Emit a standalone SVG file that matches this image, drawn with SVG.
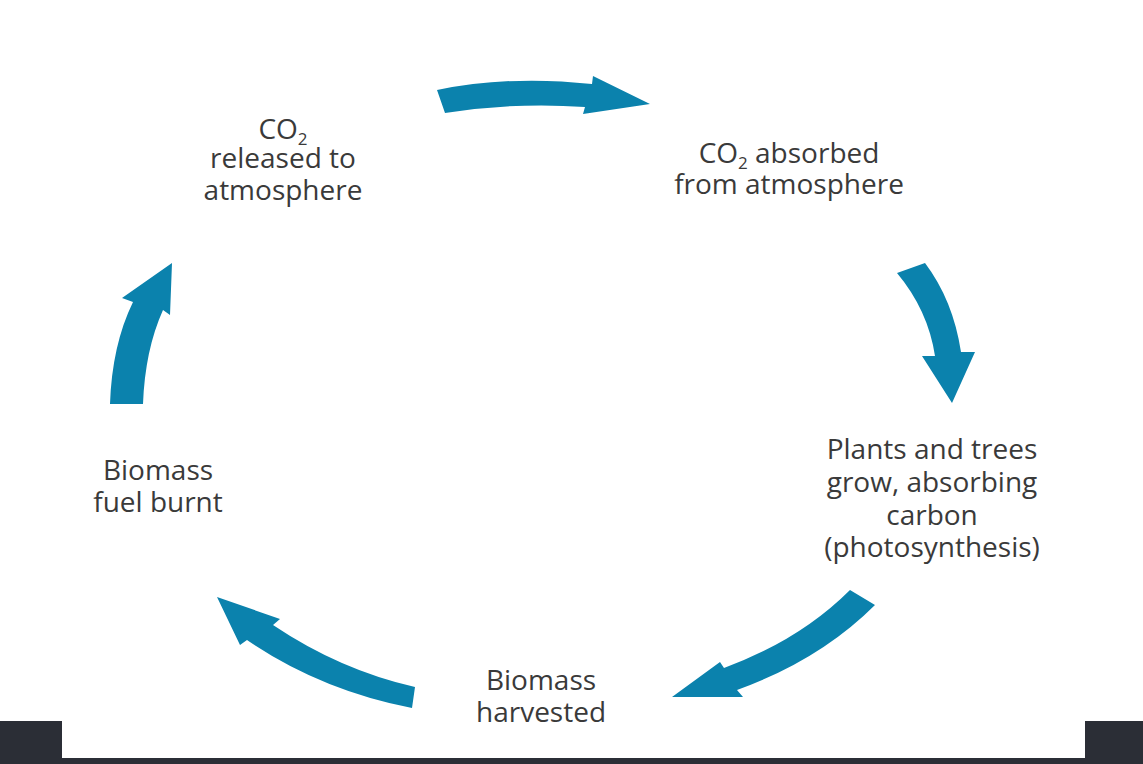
<svg xmlns="http://www.w3.org/2000/svg" width="1143" height="764" viewBox="0 0 1143 764">
<style>
.t{font-family:"Open Sans","Noto Sans",sans-serif;font-size:28px;fill:#3a3a3a;text-anchor:middle}
.s{font-size:17px}
.arr{fill:#0b82ad}
.frame{fill:#2b2e36}
</style>
<rect x="0" y="0" width="1143" height="764" fill="#ffffff"/>
<g id="frame">
<rect class="frame" x="0" y="721" width="62" height="43"/>
<rect class="frame" x="1085" y="721" width="58" height="43"/>
<rect class="frame" x="0" y="758" width="1143" height="6"/>
</g>
<g id="connectors">
<path class="arr" d="M437,90 Q510,75 592,84 L593,76 L650,104 L583,114 L585,107 Q515,102 445,113 Z"/>
<path class="arr" d="M897,273 L925,263 Q953,300 961,352 L975,352 L952,403 L922,356 L935,356 Q928,310 897,273 Z"/>
<path class="arr" d="M850,590 L875,605 Q820,660 737,690 L743,697 L672,697 L720,662 L724,668 Q800,640 850,590 Z"/>
<path class="arr" d="M217,597 L280,619 L273,625 Q340,670 415,687 L412,708 Q320,690 247,640 L240,645 Z"/>
<path class="arr" d="M172,263 L170,315 L163,310 Q145,350 143,404 L110,404 Q112,345 133,302 L122,298 Z"/>
</g>
<g id="node-released">
<text class="t" x="283" y="139">CO<tspan class="s" dy="6">2</tspan></text>
<text class="t" x="283" y="168">released to</text>
<text class="t" x="283" y="200">atmosphere</text>
</g>
<g id="node-absorbed">
<text class="t" x="789" y="163">CO<tspan class="s" dy="6">2</tspan><tspan dy="-6"> absorbed</tspan></text>
<text class="t" x="789" y="194">from atmosphere</text>
</g>
<g id="node-plants">
<text class="t" x="932" y="459">Plants and trees</text>
<text class="t" x="932" y="492">grow, absorbing</text>
<text class="t" x="932" y="525">carbon</text>
<text class="t" x="932" y="557">(photosynthesis)</text>
</g>
<g id="node-harvested">
<text class="t" x="541" y="690">Biomass</text>
<text class="t" x="541" y="722">harvested</text>
</g>
<g id="node-burnt">
<text class="t" x="158" y="480">Biomass</text>
<text class="t" x="158" y="512">fuel burnt</text>
</g>
</svg>
